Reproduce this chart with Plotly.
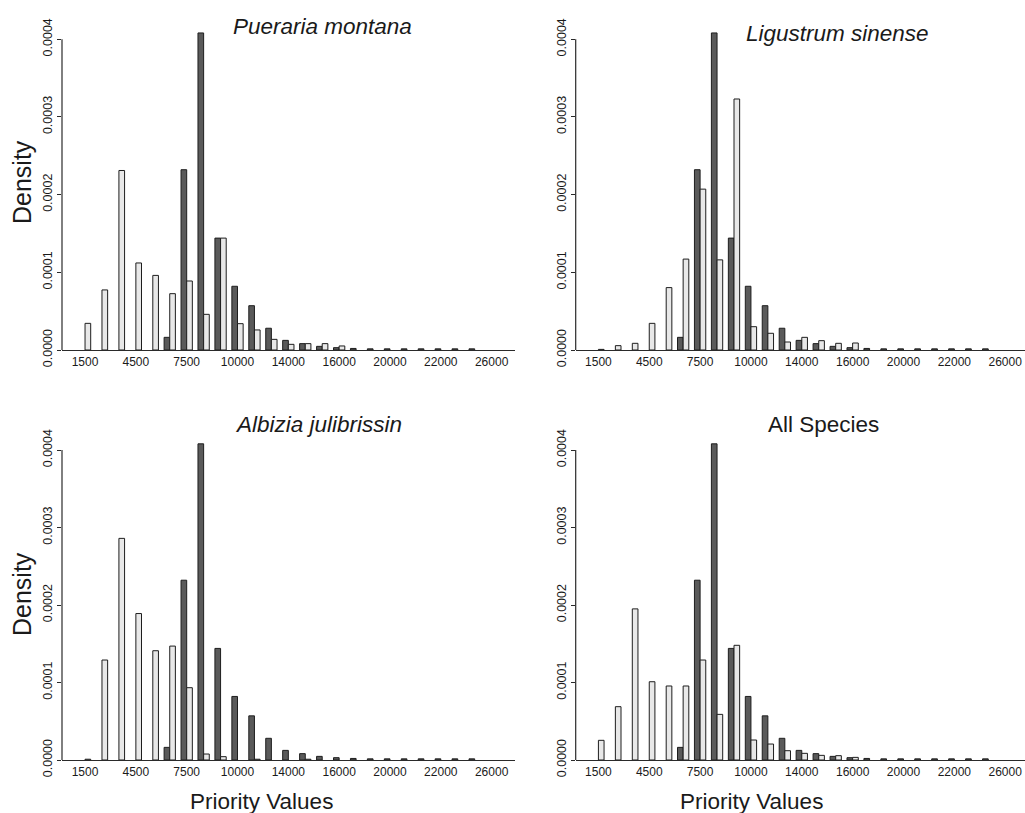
import plotly.graph_objects as go

# ---- data ----
bin_index = list(range(1, 25))  # 24 histogram bins
tick_labels = ["1500", "4500", "7500", "10000", "14000", "16000", "20000", "22000", "26000"]
y_ticks = [0.0, 0.0001, 0.0002, 0.0003, 0.0004]

reference_density = [0, 0, 0, 0, 0, 0.0000163, 0.000232, 0.000408, 0.000144, 0.000082,
                     0.000057, 0.000028, 0.0000124, 0.0000082, 0.0000047, 0.000003,
                     0.000002, 0.0000015, 0.0000015, 0.0000015, 0.0000015, 0.0000015,
                     0.0000015, 0.0000015]

pueraria = [0.0000343, 0.0000773, 0.000231, 0.000112, 0.000096, 0.0000725, 0.0000888,
            0.0000459, 0.000144, 0.0000339, 0.0000258, 0.0000137, 0.0000073, 0.0000082,
            0.0000082, 0.0000052, 0, 0, 0, 0, 0, 0, 0, 0]

ligustrum = [0.0000008, 0.0000056, 0.0000086, 0.0000343, 0.0000803, 0.000117, 0.000207,
             0.000116, 0.000323, 0.00003, 0.0000215, 0.0000103, 0.0000163, 0.000012,
             0.0000086, 0.000009, 0, 0, 0, 0, 0, 0, 0, 0]

albizia = [0.000001, 0.000129, 0.000286, 0.000189, 0.000141, 0.000147, 0.0000933,
           0.0000077, 0.0000043, 0, 0.000001, 0, 0, 0.000001, 0, 0, 0, 0, 0, 0, 0, 0, 0, 0]

all_species = [0.0000254, 0.0000688, 0.000195, 0.000101, 0.0000955, 0.0000955, 0.000129,
               0.0000589, 0.000148, 0.0000258, 0.0000206, 0.000012, 0.0000086, 0.000006,
               0.0000056, 0.0000034, 0, 0, 0, 0, 0, 0, 0, 0]

titles = ["<i>Pueraria montana</i>", "<i>Ligustrum sinense</i>",
          "<i>Albizia julibrissin</i>", "All Species"]
series = [pueraria, ligustrum, albizia, all_species]

# ---- styling / layout ----
W, H = 1025, 813
FONT = "Liberation Sans, Arial, sans-serif"
DARK = "#5a5a5a"
LIGHT = "#e8e8e8"
EDGE = "#1e1e1e"
AX = "#2a2a2a"


def px_x(p):
    return p / W


def px_y(p):
    return 1 - p / H


def nz(vals):
    # zero-height bins are not drawn
    return [v if v > 0 else None for v in vals]


# (x0, x1) pixel, (top, baseline) pixel, x range
panel_geo = [
    dict(x=(62, 515), y=(27.5, 350), xr=(-0.36, 26.38)),
    dict(x=(575.7, 1025), y=(27.5, 350), xr=(-0.34, 26.17)),
    dict(x=(62, 515), y=(438.4, 760), xr=(-0.36, 26.38)),
    dict(x=(575.7, 1025), y=(438.4, 760), xr=(-0.34, 26.17)),
]
title_pos = [(322, 26), (837, 34), (318, 424), (823, 424)]

tick_positions = list(range(1, 26, 3))

fig = go.Figure()
shapes = []
annotations = []

for i, (vals, geo) in enumerate(zip(series, panel_geo)):
    n = i + 1
    xa = "x" if n == 1 else f"x{n}"
    ya = "y" if n == 1 else f"y{n}"
    fig.add_trace(go.Bar(x=bin_index, y=nz(reference_density), xaxis=xa, yaxis=ya,
                         marker=dict(color=DARK, line=dict(color=EDGE, width=1)),
                         offsetgroup="ref", showlegend=False))
    fig.add_trace(go.Bar(x=bin_index, y=nz(vals), xaxis=xa, yaxis=ya,
                         marker=dict(color=LIGHT, line=dict(color=EDGE, width=1)),
                         offsetgroup="sp", showlegend=False))
    xkey = "xaxis" if n == 1 else f"xaxis{n}"
    ykey = "yaxis" if n == 1 else f"yaxis{n}"
    fig.layout[xkey] = dict(
        domain=[px_x(geo["x"][0]), px_x(geo["x"][1])],
        range=list(geo["xr"]), anchor=ya, automargin=False,
        showgrid=False, zeroline=False, showline=True, linecolor=AX, linewidth=1.2,
        ticks="", tickmode="array", tickvals=tick_positions, ticktext=tick_labels,
        tickfont=dict(family=FONT, size=12, color="#1a1a1a"), fixedrange=True,
    )
    fig.layout[ykey] = dict(
        domain=[px_y(geo["y"][1]), px_y(geo["y"][0])],
        range=[0, 0.000415], anchor=xa, automargin=False,
        showgrid=False, zeroline=False, showline=False,
        ticks="outside", ticklen=4, tickcolor=AX, tickwidth=1.2,
        tickmode="array", tickvals=y_ticks, tickformat=".4f", tickangle=-90,
        tickfont=dict(family=FONT, size=12.5, color="#1a1a1a"), fixedrange=True,
    )
    # R-style y axis line spanning only the tick range
    shapes.append(dict(type="line", xref=f"{xa} domain", yref=ya,
                       x0=0, x1=0, y0=y_ticks[0], y1=y_ticks[-1],
                       line=dict(color=AX, width=1.2)))
    tx, ty = title_pos[i]
    annotations.append(dict(text=titles[i], x=px_x(tx), y=px_y(ty), xref="paper", yref="paper",
                            xanchor="center", yanchor="middle", showarrow=False,
                            font=dict(family=FONT, size=22.5, color="#1a1a1a")))

# Axis titles
for (xx, yy) in [(22, 182), (22, 594)]:
    annotations.append(dict(text="Density", x=px_x(xx), y=px_y(yy), xref="paper", yref="paper",
                            xanchor="center", yanchor="middle", showarrow=False, textangle=-90,
                            font=dict(family=FONT, size=25, color="#1a1a1a")))
for (xx, yy) in [(261, 801), (751, 801)]:
    annotations.append(dict(text="Priority Values", x=px_x(xx), y=px_y(yy), xref="paper",
                            yref="paper", xanchor="center", yanchor="middle", showarrow=False,
                            font=dict(family=FONT, size=22.5, color="#1a1a1a")))

fig.update_layout(
    template="none",
    width=W, height=H, margin=dict(l=0, r=0, t=0, b=0, autoexpand=False),
    paper_bgcolor="white", plot_bgcolor="white",
    barmode="group", bargap=1/3, bargroupgap=0,
    shapes=shapes, annotations=annotations, showlegend=False,
)

fig.write_html(
    "out.html",
    config={"displayModeBar": False},
    post_script="document.body.style.margin='0';document.body.style.overflow='hidden';",
)
